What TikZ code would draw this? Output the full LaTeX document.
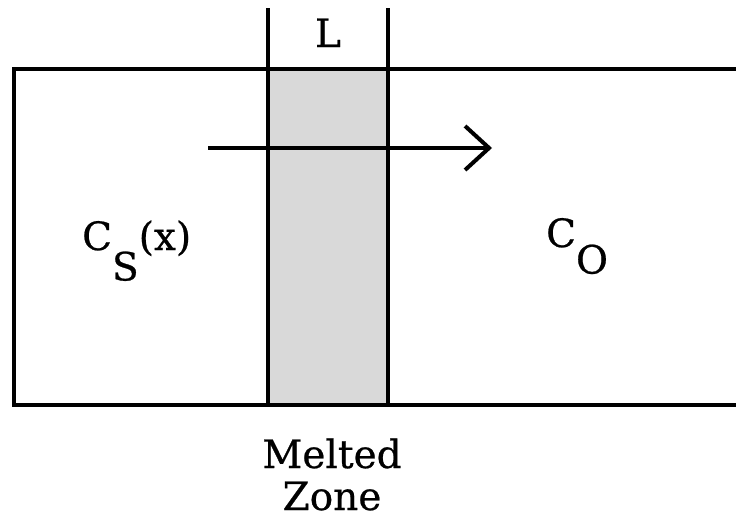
\documentclass[tikz,border=0pt]{standalone}
\usepackage{fontspec}
\setmainfont{DejaVu Serif}[FakeBold=0.6]
\usetikzlibrary{arrows.meta, positioning}
\tikzset{
  wall/.style={line width=4pt, black},
  zone/.style={fill=black!15, draw=none},
  flowarrow/.style={line width=4pt, -{Straight Barb[length=24pt, width=44pt, line width=4pt]}},
  lbl/.style={font=\fontsize{39}{42}\selectfont, inner sep=0pt, align=center},
}

\begin{document}
\begin{tikzpicture}[x=1pt, y=-1pt]
\useasboundingbox (0,0) rectangle (736,520);
% melted zone
\fill[zone] (268,69) rectangle (388,405);
% sample bar, right end open
\draw[wall] (750,69) -- (14,69) -- (14,405) -- (750,405);
\draw[wall] (268,8) -- (268,405);
\draw[wall] (388,8) -- (388,405);
% travel direction
\coordinate (arrowstart) at (208,148);
\coordinate (arrowend) at (492,148);
\draw[flowarrow] (arrowstart) -- (arrowend);
% labels
\node[lbl, anchor=base] (width) at (328,47) {L};
\node[lbl, anchor=base west] (solid) at (82,250) {C\raisebox{-0.78em}{S}(x)};
\node[lbl, anchor=base west] (orig) at (546,247) {C\raisebox{-0.68em}{O}};
\node[lbl, anchor=base] (melted) at (332,510) {Melted\\Zone};
\end{tikzpicture}
\end{document}
